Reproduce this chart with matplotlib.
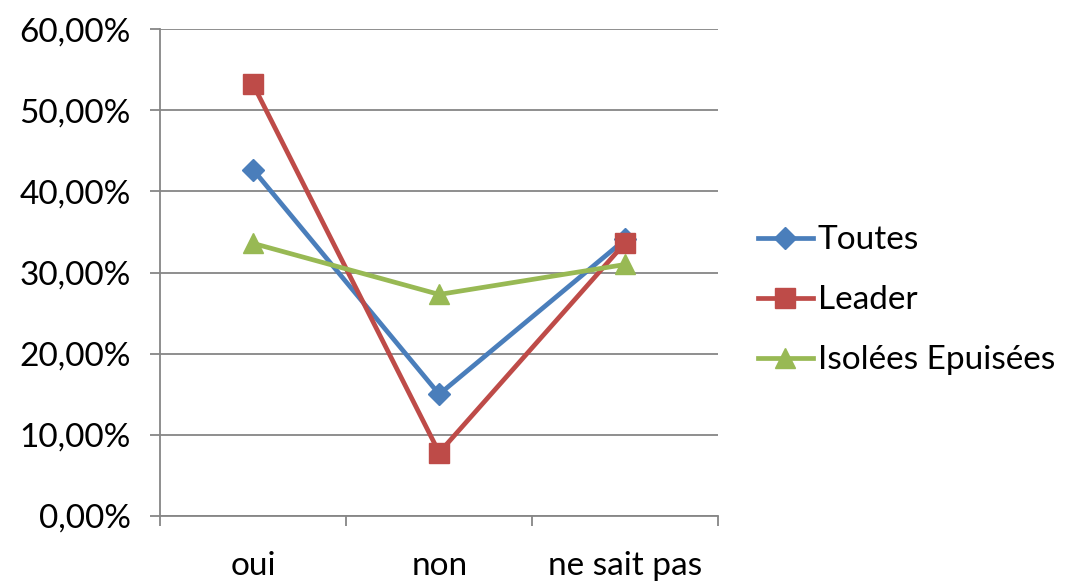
import matplotlib
matplotlib.use("Agg")
import matplotlib.pyplot as plt
from matplotlib.ticker import FuncFormatter, FixedLocator, NullFormatter

categories = ["oui", "non", "ne sait pas"]
toutes = [42.7, 15.0, 34.1]
leader = [53.2, 7.8, 33.7]
isolees = [33.6, 27.3, 31.0]
series_names = ["Toutes", "Leader", "Isolées Epuisées"]
yticks = [0, 10, 20, 30, 40, 50, 60]

plt.rcParams['font.family'] = ['Lato', 'DejaVu Sans']

fig = plt.figure(figsize=(10.66, 5.83), dpi=100)
ax = fig.add_axes([0.150, 0.115, 0.524, 0.835])

grid_c = "#868686"
x = list(range(len(categories)))
ax.plot(x, toutes, color="#4A7EBB", lw=3.4, marker="D", ms=11, label=series_names[0], zorder=3)
ax.plot(x, leader, color="#BE4B48", lw=3.4, marker="s", ms=14, label=series_names[1], zorder=4)
ax.plot(x, isolees, color="#98B954", lw=3.4, marker="^", ms=14, label=series_names[2], zorder=5)

ax.set_xlim(-0.5, 2.5)
ax.set_ylim(0, 60)
ax.set_yticks(yticks)
ax.yaxis.set_major_formatter(FuncFormatter(lambda v, p: f"{v:.2f}%".replace(".", ",")))
ax.grid(axis="y", color=grid_c, lw=1.3)
ax.set_axisbelow(True)

ax.xaxis.set_major_locator(FixedLocator([-0.5, 0.5, 1.5, 2.5]))
ax.xaxis.set_major_formatter(NullFormatter())
ax.xaxis.set_minor_locator(FixedLocator(x))
ax.set_xticks(x, minor=True)
ax.set_xticklabels(categories, minor=True)
ax.tick_params(axis="x", which="minor", length=0, pad=25, labelsize=24)
ax.tick_params(axis="x", which="major", length=7, color=grid_c, width=1.3, direction="out")
ax.tick_params(axis="y", length=7, color=grid_c, width=1.3, labelsize=24, pad=14)

for s in ["top", "right"]:
    ax.spines[s].set_visible(False)
for s in ["left", "bottom"]:
    ax.spines[s].set_color(grid_c)
    ax.spines[s].set_linewidth(1.3)

leg = ax.legend(loc="center left", bbox_to_anchor=(1.046, 0.443), frameon=False,
                fontsize=24, handlelength=1.65, handletextpad=0.15, labelspacing=0.9,
                borderaxespad=0)

fig.savefig("out.png", dpi=100)
